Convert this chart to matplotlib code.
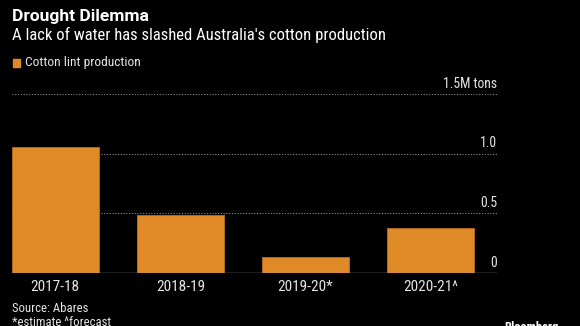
import matplotlib
matplotlib.use("Agg")
import matplotlib.pyplot as plt

categories = ["2017-18", "2018-19", "2019-20*", "2020-21^"]
values = [1.058, 0.486, 0.134, 0.379]
yticks = [0, 0.5, 1.0, 1.5]
ytick_labels = ["0", "0.5", "1.0", "1.5M tons"]

W, H = 580, 326
plt.rcParams["font.family"] = ["Roboto Condensed", "DejaVu Sans"]
fig = plt.figure(figsize=(W / 100, H / 100), dpi=100, facecolor="black")

BAR = "#DF8A27"
TXT = "#e6e6e6"

ax = fig.add_axes([12 / W, (H - 273) / H, (497 - 12) / W, (273 - 94) / H])
ax.set_facecolor("black")
x = list(range(len(categories)))
ax.bar(x, values, width=0.692, color=BAR, edgecolor="#B8701F", linewidth=0.6, zorder=2)
ax.set_xlim(-0.346, 3.532)
ax.set_ylim(0, 1.5)
for s in ax.spines.values():
    s.set_visible(False)
ax.set_yticks([])
ax.set_xticks(x)
ax.set_xticklabels(categories, color=TXT, fontsize=11)
ax.tick_params(axis="x", length=0, pad=5)
ax.axhline(0, color="#9a9a9a", lw=1, zorder=3)
for t, lab in zip(yticks, ytick_labels):
    if t > 0:
        ax.axhline(t, color="#8a8a8a", lw=0.8, ls=(0, (1, 1.5)), zorder=1)
    ax.annotate(lab, xy=(1, t), xycoords=("axes fraction", "data"),
                xytext=(0, 2.5), textcoords="offset points",
                ha="right", va="bottom", color=TXT, fontsize=9.8)

fig.text(12 / W, 1 - 16 / H, "Drought Dilemma", color="white", fontsize=12.5,
         fontweight="bold", family=["Roboto", "DejaVu Sans"], va="center", ha="left")
fig.text(12 / W, 1 - 35 / H, "A lack of water has slashed Australia's cotton production",
         color="white", fontsize=12, va="center", ha="left")
fig.patches.append(plt.Rectangle((13 / W, 1 - 67 / H), 7 / W, 8 / H,
                                 transform=fig.transFigure, color=BAR))
fig.text(25 / W, 1 - 62.5 / H, "Cotton lint production", color=TXT,
         fontsize=9.6, va="center", ha="left")
fig.text(12 / W, 1 - 309 / H, "Source: Abares", color=TXT, fontsize=9.2,
         va="center", ha="left")
fig.text(12 / W, 1 - 322.5 / H, "*estimate ^forecast", color=TXT, fontsize=9.2,
         va="center", ha="left")
fig.text(504 / W, 1 - 321.5 / H, "Bloomberg", color="white", fontsize=9,
         fontweight="bold", va="top", ha="left")

fig.savefig("out.png", dpi=100, facecolor="black")
